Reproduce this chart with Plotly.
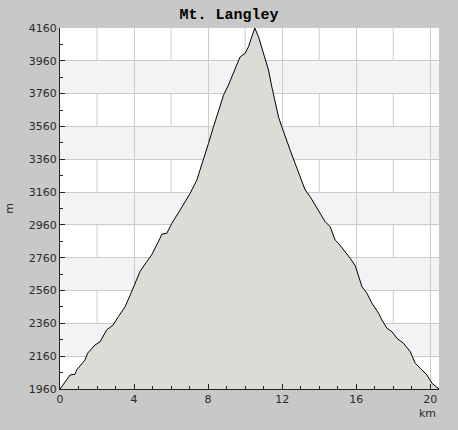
import plotly.graph_objects as go

# distance along route (km)
dist_km = [0.0, 0.54, 0.81, 0.9, 1.35, 1.5, 1.89, 2.16, 2.52, 2.7, 2.87, 3.14, 3.51, 3.87,
           4.32, 4.68, 4.95, 5.4, 5.5, 5.77, 6.04, 6.49, 7.03, 7.39, 7.75, 8.02, 8.29,
           8.56, 8.83, 9.1, 9.37, 9.55, 9.73, 10.0, 10.18, 10.36, 10.52,
           10.72, 10.99, 11.26, 11.44, 11.62, 11.8, 11.98, 12.16, 12.43, 12.7, 12.97,
           13.24, 13.51, 13.78, 14.05, 14.32, 14.59, 14.86, 15.04, 15.41, 15.68, 15.95,
           16.13, 16.31, 16.58, 16.85, 17.21, 17.39, 17.66, 17.93, 18.2, 18.56, 18.92,
           19.19, 19.46, 19.82, 20.09, 20.47]
# elevation (m)
elev_m = [1960, 2045, 2050, 2076, 2137, 2179, 2228, 2247, 2320, 2333, 2350, 2399, 2460, 2553,
          2675, 2736, 2777, 2878, 2904, 2909, 2970, 3051, 3153, 3234, 3356, 3457, 3558,
          3660, 3750, 3813, 3884, 3930, 3985, 4005, 4046, 4107, 4160,
          4107, 4005, 3904, 3802, 3701, 3619, 3558, 3498, 3416, 3335, 3254,
          3173, 3132, 3081, 3031, 2980, 2949, 2868, 2848, 2797, 2756, 2710,
          2644, 2583, 2543, 2482, 2421, 2380, 2330, 2309, 2269, 2238, 2187,
          2116, 2086, 2045, 1995, 1960]

x_ticks = [0, 4, 8, 12, 16, 20]
y_ticks = [1960, 2160, 2360, 2560, 2760, 2960, 3160, 3360, 3560, 3760, 3960, 4160]

y_min, y_max = y_ticks[0], y_ticks[-1]
x_max = dist_km[-1]

fig = go.Figure()
fig.add_trace(go.Scatter(
    x=dist_km, y=elev_m, mode="lines",
    line=dict(color="black", width=1),
    fill="tozeroy", fillcolor="#dcdbd6",
    hoverinfo="skip", showlegend=False,
))

# alternating background bands
shapes = []
for i in range(len(y_ticks) - 1):
    if i % 2 == 1:
        shapes.append(dict(type="rect", xref="x", yref="y",
                           x0=0, x1=x_max, y0=y_ticks[i], y1=y_ticks[i + 1],
                           fillcolor="#f3f2f5", line=dict(width=0), layer="below"))
# vertical grid every 2 km (between labelled ticks)
for v in range(2, 21, 4):
    shapes.append(dict(type="line", xref="x", yref="paper", x0=v, x1=v, y0=0, y1=1,
                       line=dict(color="#cbcbcb", width=1), layer="below"))

axis_font = dict(family="DejaVu Sans", size=11, color="#2a2a2a")

fig.update_layout(
    width=458, height=430,
    margin=dict(l=60, r=19, t=28, b=41, autoexpand=False),
    paper_bgcolor="#c8c8c8", plot_bgcolor="white",
    shapes=shapes,
    title=dict(text="<b>Mt. Langley</b>", x=0.5, xref="container", xanchor="center",
               y=1 - 14 / 430, yref="container", yanchor="middle",
               font=dict(family="Liberation Mono", size=15, color="black")),
    xaxis=dict(range=[0, x_max], tickmode="array", tickvals=x_ticks,
               ticktext=[str(v) for v in x_ticks], automargin=False,
               showgrid=True, gridcolor="#cbcbcb", gridwidth=1,
               showline=True, linecolor="#222222", linewidth=1,
               ticks="inside", ticklen=5, tickcolor="#222222",
               minor=dict(dtick=1, tick0=0, ticks="inside", ticklen=3, tickcolor="#222222",
                          showgrid=False),
               zeroline=False, tickfont=axis_font, fixedrange=True),
    yaxis=dict(range=[y_min, y_max], tickmode="array", tickvals=y_ticks, automargin=False,
               showgrid=True, gridcolor="#cbcbcb", gridwidth=1,
               showline=True, linecolor="#222222", linewidth=1,
               ticks="inside", ticklen=5, tickcolor="#222222",
               minor=dict(dtick=100, tick0=1960, ticks="inside", ticklen=3,
                          tickcolor="#222222", showgrid=False),
               zeroline=False, tickfont=axis_font, fixedrange=True,
               title=dict(text="m", font=axis_font, standoff=12)),
    annotations=[dict(text="km", xref="paper", yref="paper", x=1, y=0,
                      xanchor="right", yanchor="top", yshift=-16, xshift=-1,
                      showarrow=False, font=axis_font)],
)

fig.write_html("out.html", config={"displayModeBar": False},
               post_script="document.body.style.margin='0';")
